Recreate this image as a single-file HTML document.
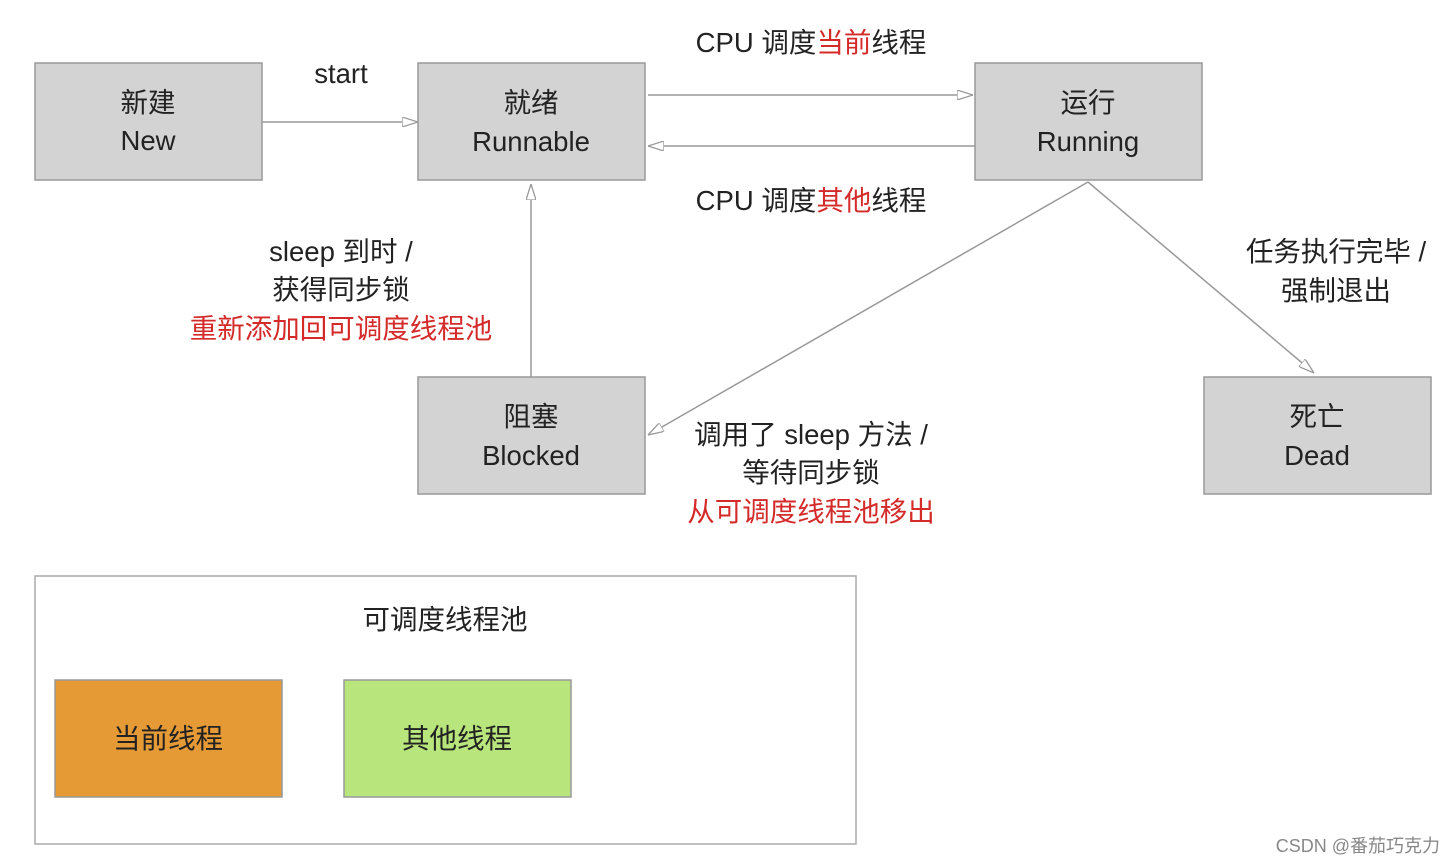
<!DOCTYPE html>
<html><head><meta charset="utf-8"><style>
html,body{margin:0;padding:0;background:#fff;}
svg{display:block;}
text{font-family:"Liberation Sans","Noto Sans CJK SC",sans-serif;font-size:27.5px;fill:#222;}
.r{fill:#d42a2a;}
</style></head><body>
<svg width="1454" height="864" viewBox="0 0 1454 864" xmlns="http://www.w3.org/2000/svg">
<defs>
<marker id="a" viewBox="0 0 16 10" refX="16" refY="5" markerWidth="16" markerHeight="10" markerUnits="userSpaceOnUse" orient="auto">
<path d="M0,0 L16,5 L0,10 Z" fill="#fff" stroke="#999" stroke-width="1.3"/>
</marker>
</defs>
<g fill="#d3d3d3" stroke="#999" stroke-width="1.5">
<rect x="35" y="63" width="227" height="117"/>
<rect x="418" y="63" width="227" height="117"/>
<rect x="975" y="63" width="227" height="117"/>
<rect x="418" y="377" width="227" height="117"/>
<rect x="1204" y="377" width="227" height="117"/>
</g>
<rect x="35" y="576" width="821" height="268" fill="#fff" stroke="#aaa" stroke-width="1.5"/>
<rect x="55" y="680" width="227" height="117" fill="#e59a36" stroke="#999" stroke-width="1.5"/>
<rect x="344" y="680" width="227" height="117" fill="#b9e67c" stroke="#999" stroke-width="1.5"/>
<g stroke="#999" stroke-width="1.5" fill="none" marker-end="url(#a)">
<line x1="262" y1="122" x2="418" y2="122"/>
<line x1="648" y1="95" x2="973" y2="95"/>
<line x1="975" y1="146" x2="648" y2="146"/>
<line x1="531" y1="377" x2="531" y2="184"/>
<line x1="1088" y1="182" x2="648" y2="435"/>
<line x1="1088" y1="182" x2="1314" y2="373"/>
</g>
<g text-anchor="middle">
<text x="148" y="112">新建</text><text x="148" y="150">New</text>
<text x="531" y="112">就绪</text><text x="531" y="151">Runnable</text>
<text x="1088" y="112">运行</text><text x="1088" y="151">Running</text>
<text x="531" y="426">阻塞</text><text x="531" y="465">Blocked</text>
<text x="1317" y="426">死亡</text><text x="1317" y="465">Dead</text>
<text x="341" y="83">start</text>
<text x="811" y="52">CPU 调度<tspan class="r">当前</tspan>线程</text>
<text x="811" y="210">CPU 调度<tspan class="r">其他</tspan>线程</text>
<text x="341" y="261">sleep 到时 /</text>
<text x="341" y="299">获得同步锁</text>
<text x="341" y="338" class="r">重新添加回可调度线程池</text>
<text x="811" y="444">调用了 sleep 方法 /</text>
<text x="811" y="482">等待同步锁</text>
<text x="811" y="521" class="r">从可调度线程池移出</text>
<text x="1336" y="261">任务执行完毕 /</text>
<text x="1336" y="300">强制退出</text>
<text x="445" y="629">可调度线程池</text>
<text x="168" y="748">当前线程</text>
<text x="457" y="748">其他线程</text>
</g>
<text x="1440" y="852" text-anchor="end" style="font-size:18px;fill:#888">CSDN @番茄巧克力</text>
</svg>
</body></html>
